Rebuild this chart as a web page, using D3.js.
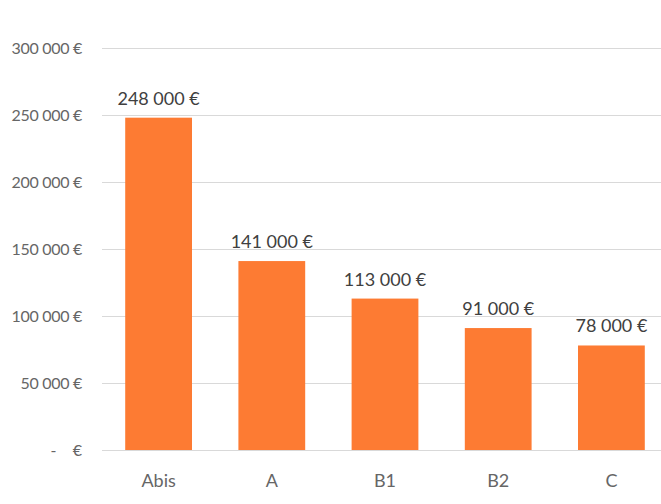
<!DOCTYPE html>
<html>
<head>
    <title>Bars</title>
    <script src="https://d3js.org/d3.v7.min.js"></script>
    <style>
      body{ margin:0; background:white; }
      text{ font-family: Lato, "Open Sans", sans-serif; }
      .tick-label{ fill:#666666; font-size:16px; white-space:pre; }
      .value{ fill:#404040; font-size:18px; text-anchor:middle; }
      .grid{ stroke:#d9d9d9; stroke-width:1; }
    </style>
</head>
<body>
    <script>
      var categories=["Abis","A","B1","B2","C"];
      var values=[248000,141000,113000,91000,78000];
      var ticks=[0,50000,100000,150000,200000,250000,300000];

      var width=661, height=504;
      var svg=d3.select("body").append("svg").attr("width",width).attr("height",height);

      var x=d3.scaleBand().domain(categories).range([102,668]).paddingInner(0.41).paddingOuter(0.205);
      var y=d3.scaleLinear().domain([0,300000]).range([450,48]);

      function euro(v){
        if(v===0) return "-    €";
        return d3.format(",")(v).replace(/,/g," ")+" €";
      }

      svg.append("g").selectAll("line").data(ticks).enter().append("line")
        .attr("class","grid")
        .attr("x1",102).attr("x2",width)
        .attr("y1",function(d){return Math.round(y(d))+0.5}).attr("y2",function(d){return Math.round(y(d))+0.5});

      svg.append("g").selectAll("text").data(ticks).enter().append("text")
        .attr("class","tick-label")
        .attr("x",82).attr("y",function(d){return y(d)+6})
        .attr("text-anchor","end")
        .style("letter-spacing",function(d){return d===0?"0px":"-0.3px"})
        .text(euro);

      svg.append("g").selectAll("rect").data(values).enter().append("rect")
        .attr("x",function(d,i){return x(categories[i])})
        .attr("width",x.bandwidth())
        .attr("y",function(d){return y(d)})
        .attr("height",function(d){return y(0)-y(d)})
        .attr("fill","#fd7b33");

      svg.append("g").selectAll("text").data(values).enter().append("text")
        .attr("class","value")
        .attr("x",function(d,i){return x(categories[i])+x.bandwidth()/2})
        .attr("y",function(d){return y(d)-13})
        .text(euro);

      svg.append("g").selectAll("text").data(categories).enter().append("text")
        .attr("class","tick-label")
        .style("font-size","18px")
        .attr("text-anchor","middle")
        .attr("x",function(d){return x(d)+x.bandwidth()/2})
        .attr("y",487)
        .text(function(d){return d});
    </script>
</body>
</html>
